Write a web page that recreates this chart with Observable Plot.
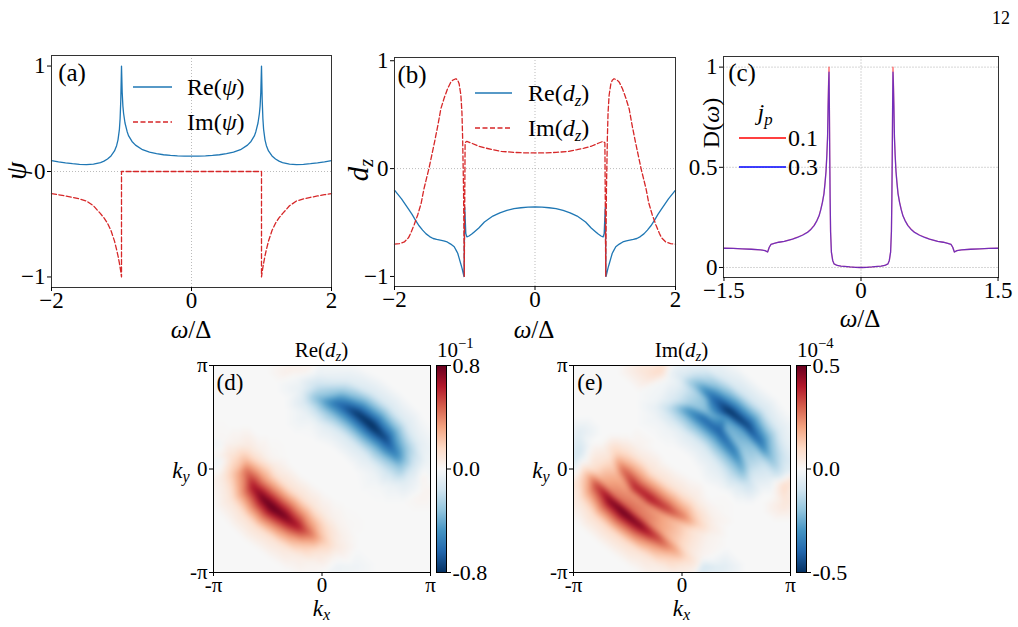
<!DOCTYPE html>
<html><head><meta charset="utf-8">
<script src="https://cdn.jsdelivr.net/npm/d3@7"></script>
<script src="https://cdn.jsdelivr.net/npm/@observablehq/plot@0.6"></script>
<style>
html,body{margin:0;padding:0;background:#fff;}
#fig{position:relative;width:1018px;height:627px;overflow:hidden;font-family:"Liberation Serif","DejaVu Serif",serif;color:#000;}
#fig svg{position:absolute;left:0;top:0;}
.t{position:absolute;white-space:nowrap;line-height:1;}
.t sub{font-size:70%;vertical-align:-0.28em;line-height:0;}
.t sup{font-size:70%;vertical-align:0.6em;line-height:0;}
</style></head><body><div id="fig"></div>
<script>
// ---------------- Panel (a): psi ----------------
const wReA = [-2.0,-1.9,-1.8,-1.7,-1.6,-1.5,-1.4,-1.3,-1.25,-1.2,-1.15,-1.1,-1.07,-1.05,-1.03,-1.02,-1.01,-1.0,-0.99,-0.98,-0.97,-0.95,-0.92,-0.9,-0.85,-0.8,-0.7,-0.6,-0.5,-0.4,-0.3,-0.2,-0.1,0,
  0.1,0.2,0.3,0.4,0.5,0.6,0.7,0.8,0.85,0.9,0.92,0.95,0.97,0.98,0.99,1.0,1.01,1.02,1.03,1.05,1.07,1.1,1.15,1.2,1.25,1.3,1.4,1.5,1.6,1.7,1.8,1.9,2.0];
const reA = [0.104,0.092,0.082,0.074,0.068,0.066,0.070,0.085,0.098,0.118,0.148,0.195,0.245,0.30,0.40,0.50,0.68,1.0,0.75,0.62,0.55,0.46,0.38,0.34,0.285,0.25,0.207,0.184,0.169,0.159,0.152,0.148,0.146,0.145,
  0.146,0.148,0.152,0.159,0.169,0.184,0.207,0.25,0.285,0.34,0.38,0.46,0.55,0.62,0.75,1.0,0.68,0.50,0.40,0.30,0.245,0.195,0.148,0.118,0.098,0.085,0.070,0.066,0.068,0.074,0.082,0.092,0.104];
const wImA = [-2.0,-1.9,-1.8,-1.7,-1.6,-1.5,-1.4,-1.3,-1.25,-1.2,-1.15,-1.1,-1.07,-1.05,-1.03,-1.02,-1.01,-1.0,-1.0,
  1.0,1.0,1.01,1.02,1.03,1.05,1.07,1.1,1.15,1.2,1.25,1.3,1.4,1.5,1.6,1.7,1.8,1.9,2.0];
const imA = [-0.21,-0.22,-0.232,-0.245,-0.26,-0.28,-0.325,-0.40,-0.44,-0.49,-0.56,-0.66,-0.74,-0.80,-0.87,-0.91,-0.95,-1.0,0,
  0,-1.0,-0.95,-0.91,-0.87,-0.80,-0.74,-0.66,-0.56,-0.49,-0.44,-0.40,-0.325,-0.28,-0.26,-0.245,-0.232,-0.22,-0.21];

// ---------------- Panel (b): d_z ----------------
const wReB = [-2.0,-1.9,-1.8,-1.75,-1.7,-1.65,-1.6,-1.55,-1.5,-1.45,-1.4,-1.35,-1.3,-1.25,-1.2,-1.15,-1.12,-1.1,-1.08,-1.06,-1.04,-1.02,-1.01,-1.0,-0.985,-0.97,-0.94,-0.9,-0.865,-0.8,-0.72,-0.6,-0.5,-0.4,-0.3,-0.2,-0.1,0,
  0.1,0.2,0.3,0.4,0.5,0.6,0.72,0.8,0.865,0.9,0.94,0.97,0.985,1.0,1.01,1.02,1.04,1.06,1.08,1.1,1.12,1.15,1.2,1.25,1.3,1.35,1.4,1.45,1.5,1.55,1.6,1.65,1.7,1.75,1.8,1.9,2.0];
const reB = [-0.2,-0.28,-0.375,-0.425,-0.48,-0.53,-0.57,-0.605,-0.63,-0.648,-0.657,-0.663,-0.67,-0.68,-0.70,-0.725,-0.76,-0.785,-0.83,-0.875,-0.92,-0.975,-1.0,-0.36,-0.6,-0.633,-0.625,-0.607,-0.587,-0.55,-0.495,-0.44,-0.41,-0.388,-0.372,-0.363,-0.357,-0.355,
  -0.357,-0.363,-0.372,-0.388,-0.41,-0.44,-0.495,-0.55,-0.587,-0.607,-0.625,-0.633,-0.6,-0.36,-1.0,-0.975,-0.92,-0.875,-0.83,-0.785,-0.76,-0.725,-0.70,-0.68,-0.67,-0.663,-0.657,-0.648,-0.63,-0.605,-0.57,-0.53,-0.48,-0.425,-0.375,-0.28,-0.2];
const wImB = [-2.0,-1.93,-1.86,-1.8,-1.77,-1.72,-1.67,-1.62,-1.58,-1.51,-1.43,-1.38,-1.34,-1.29,-1.245,-1.2,-1.17,-1.125,-1.1,-1.08,-1.055,-1.04,-1.03,-1.017,-1.007,-0.995,-0.97,-0.9,-0.8,-0.7,-0.6,-0.48,-0.3,-0.15,0,
  0.15,0.3,0.48,0.6,0.7,0.8,0.9,0.97,0.995,1.007,1.017,1.03,1.04,1.055,1.08,1.1,1.125,1.17,1.2,1.245,1.29,1.34,1.38,1.43,1.51,1.58,1.62,1.67,1.72,1.77,1.8,1.86,1.93,2.0];
const imB = [-0.70,-0.695,-0.68,-0.64,-0.60,-0.52,-0.43,-0.32,-0.185,0.0,0.246,0.41,0.555,0.66,0.74,0.80,0.82,0.833,0.82,0.787,0.68,0.52,0.28,-0.2,-1.0,0.24,0.253,0.235,0.207,0.19,0.175,0.16,0.15,0.146,0.145,
  0.146,0.15,0.16,0.175,0.19,0.207,0.235,0.253,0.24,-1.0,-0.2,0.28,0.52,0.68,0.787,0.82,0.833,0.82,0.80,0.74,0.66,0.555,0.41,0.246,0.0,-0.185,-0.32,-0.43,-0.52,-0.60,-0.64,-0.68,-0.695,-0.70];

// ---------------- Panel (c): D(omega) for two j_p ----------------
const wC = [-1.5,-1.4,-1.3,-1.2,-1.1,-1.05,-1.022,-1.004,-0.985,-0.95,-0.9,-0.84,-0.75,-0.695,-0.64,-0.586,-0.55,-0.513,-0.485,-0.458,-0.44,-0.422,-0.405,-0.393,-0.383,-0.374,-0.366,-0.36,-0.355,-0.35,-0.346,-0.342,-0.338,-0.333,-0.324,-0.31,-0.295,-0.26,-0.22,-0.185,-0.12,-0.06,0,
  0.06,0.12,0.185,0.22,0.26,0.295,0.31,0.324,0.333,0.338,0.342,0.346,0.35,0.355,0.36,0.366,0.374,0.383,0.393,0.405,0.422,0.44,0.458,0.485,0.513,0.55,0.586,0.64,0.695,0.75,0.84,0.9,0.95,0.985,1.004,1.022,1.05,1.1,1.2,1.3,1.4,1.5];
const dJp01 = [0.096,0.095,0.093,0.091,0.088,0.084,0.077,0.101,0.115,0.12,0.126,0.13,0.142,0.151,0.162,0.176,0.19,0.21,0.232,0.26,0.29,0.326,0.37,0.426,0.48,0.56,0.65,0.81,0.92,1.0,0.8,0.56,0.35,0.18,0.077,0.035,0.018,0.01,0.007,0.006,0.003,0.001,0,
  0.001,0.003,0.006,0.007,0.01,0.018,0.035,0.077,0.18,0.35,0.56,0.8,1.0,0.92,0.81,0.65,0.56,0.48,0.426,0.37,0.326,0.29,0.26,0.232,0.21,0.19,0.176,0.162,0.151,0.142,0.13,0.126,0.12,0.115,0.101,0.077,0.084,0.088,0.091,0.093,0.095,0.096];
const dJp03 = [0.096,0.095,0.093,0.091,0.088,0.084,0.077,0.101,0.115,0.12,0.126,0.13,0.141,0.150,0.161,0.175,0.189,0.209,0.231,0.259,0.289,0.325,0.369,0.425,0.479,0.558,0.648,0.80,0.90,0.975,0.79,0.55,0.345,0.178,0.077,0.035,0.018,0.01,0.007,0.006,0.003,0.001,0,
  0.001,0.003,0.006,0.007,0.01,0.018,0.035,0.077,0.178,0.345,0.55,0.79,0.975,0.90,0.80,0.648,0.558,0.479,0.425,0.369,0.325,0.289,0.259,0.231,0.209,0.189,0.175,0.161,0.150,0.141,0.13,0.126,0.12,0.115,0.101,0.077,0.084,0.088,0.091,0.093,0.095,0.096];
const jpLabels = ["0.1","0.3"];

// ---------------- Panel (d): Re(d_z) in k-space (ridges) ----------------
const dRedKx = [-2.12,-2.22,-2.18,-1.98,-1.69,-1.45,-1.11,-0.73,-0.34,0.04,0.42];
const dRedKy = [0.66,0.30,-0.05,-0.55,-0.91,-1.16,-1.41,-1.71,-1.97,-2.17,-2.37];
const dRedV  = [0.08,0.24,0.45,0.68,0.8,0.85,0.8,0.68,0.45,0.22,0.08];
const dBlueKx = [-0.53,-0.14,0.44,1.02,1.45,1.84,2.13,2.27,2.37];
const dBlueKy = [2.03,2.13,1.98,1.68,1.32,0.92,0.46,0.01,-0.40];
const dBlueV  = [-0.12,-0.35,-0.62,-0.8,-0.85,-0.75,-0.55,-0.3,-0.1];
const dProfileOff = [-1.3,-0.75,-0.38,0,0.38,0.75,1.3];
const dProfileFac = [0,0.15,0.52,1,0.52,0.15,0];
const dFaintKx = [-0.95,-0.45,2.95,2.95,0.45,0.95,-2.95,-2.95];
const dFaintKy = [3.0,3.0,-0.3,-0.8,-3.0,-3.0,0.3,0.8];
const dFaintV  = [0.05,0.04,0.04,0.03,-0.05,-0.04,-0.04,-0.03];

// ---------------- Panel (e): Im(d_z) in k-space ----------------
const eRedOutKx = [-2.76,-2.47,-2.08,-1.69,-1.21,-0.73,-0.25,0.14,0.5];
const eRedOutKy = [-0.15,-0.50,-0.96,-1.31,-1.71,-2.07,-2.42,-2.68,-2.85];
const eRedOutV  = [0.15,0.35,0.48,0.52,0.48,0.36,0.22,0.1,0.03];
const eRedInKx = [-1.89,-1.69,-1.36,-0.92,-0.44,0.04,0.43,0.85];
const eRedInKy = [0.46,-0.05,-0.55,-0.91,-1.21,-1.46,-1.66,-1.82];
const eRedInV  = [0.12,0.3,0.4,0.42,0.36,0.26,0.13,0.04];
const eBlueOutKx = [-0.35,0.0,0.25,0.83,1.40,1.89,2.27,2.56,2.76];
const eBlueOutKy = [2.9,2.8,2.63,2.23,1.72,1.32,0.81,0.31,-0.20];
const eBlueOutV  = [-0.03,-0.08,-0.18,-0.38,-0.52,-0.48,-0.38,-0.22,-0.1];
const eBlueInKx = [-0.75,-0.33,0.15,0.63,1.11,1.50,1.74,1.89];
const eBlueInKy = [1.85,1.83,1.78,1.52,1.12,0.56,0.01,-0.40];
const eBlueInV  = [-0.04,-0.14,-0.3,-0.4,-0.42,-0.36,-0.25,-0.12];
const eOuterOff = [-1.2,-0.65,-0.28,0,0.22];
const eOuterFac = [0,0.18,0.6,1,0.55];
const eInnerOff = [-0.22,0,0.28,0.65,1.2];
const eInnerFac = [0.55,1,0.6,0.18,0];
const eFaintKx = [-1.2,-0.6,3.0,3.0,0.6,1.2,-3.0,-3.0];
const eFaintKy = [3.0,3.0,-0.5,-1.1,-3.0,-3.0,0.5,1.1];
const eFaintV  = [0.06,0.1,0.1,0.06,-0.1,-0.06,-0.1,-0.06];

const dTicks = [-0.8,0,0.8];
const eTicks = [-0.5,0,0.5];

// ---------------- helpers ----------------
const W = 1018, H = 627, PI = Math.PI;
const FONT = '"Liberation Serif","DejaVu Serif",serif';
const BLUE = "#1f77b4", RED = "#d62728";
const RDBU = d3.schemeRdBu[11].slice().reverse();
const fig = document.getElementById("fig");
const rows = (xs, ys) => xs.map((w, i) => ({w, v: ys[i]}));
const fmtM = d => (d < 0 ? "\u2212" + Math.abs(d) : String(d));
const piFmt = d => (d < -1 ? "-\u03C0" : d > 1 ? "\u03C0" : "0");
function colorScale(lim) {
  return {type: "linear", domain: RDBU.map((_, i) => -lim + i * lim / 5), range: RDBU, interpolate: "rgb", clamp: true};
}
function base(ml, mr, mt, mb, fs) {
  return {width: W, height: H, marginLeft: ml, marginRight: mr, marginTop: mt, marginBottom: mb,
    style: {background: "transparent", fontFamily: FONT, fontSize: (fs || 23) + "px", color: "#000"}};
}
function band(kx, ky, val, offs, facs) {
  const pts = [], n = kx.length;
  for (let i = 0; i < n; i++) {
    const a = Math.max(0, i - 1), b = Math.min(n - 1, i + 1);
    let tx = kx[b] - kx[a], ty = ky[b] - ky[a];
    const L = Math.hypot(tx, ty); tx /= L; ty /= L;
    let nx = -ty, ny = tx;
    if (nx * (-kx[i]) + ny * (-ky[i]) < 0) { nx = -nx; ny = -ny; }
    offs.forEach((o, j) => pts.push({x: kx[i] + o * nx, y: ky[i] + o * ny, v: val[i] * facs[j]}));
  }
  return pts;
}
function faint(kx, ky, v) { return kx.map((x, i) => ({x, y: ky[i], v: v[i]})); }
function withBackground(pts) {
  const out = pts.slice(), n = 25;
  for (let i = 0; i < n; i++) for (let j = 0; j < n; j++) {
    const x = -PI + 2 * PI * i / (n - 1), y = -PI + 2 * PI * j / (n - 1);
    if (pts.every(p => Math.hypot(p.x - x, p.y - y) > 0.45)) out.push({x, y, v: 0});
  }
  return out;
}
function add(svg) { fig.appendChild(svg); }
function txt(html, x, y, o = {}) {
  const d = document.createElement("div");
  d.className = "t"; d.innerHTML = html;
  d.style.left = x + "px"; d.style.top = y + "px";
  d.style.fontSize = (o.size || 22) + "px";
  const ax = o.anchor === "start" ? "0" : o.anchor === "end" ? "-100%" : "-50%";
  d.style.transform = `translate(${ax},-50%)` + (o.rotate ? ` rotate(${o.rotate}deg)` : "");
  fig.appendChild(d);
}

// ---------------- (a) ----------------
add(Plot.plot({
  ...base(51, 687, 55, 340),
  x: {domain: [-2, 2]}, y: {domain: [-1.1, 1.1]},
  marks: [
    Plot.gridX({ticks: [0], stroke: "#aaa", strokeOpacity: 1, strokeDasharray: "1,2", strokeWidth: 0.8}),
    Plot.gridY({ticks: [0], stroke: "#aaa", strokeOpacity: 1, strokeDasharray: "1,2", strokeWidth: 0.8}),
    Plot.line(rows(wReA, reA), {x: "w", y: "v", stroke: BLUE, strokeWidth: 1.3}),
    Plot.line(rows(wImA, imA), {x: "w", y: "v", stroke: RED, strokeWidth: 1.3, strokeDasharray: "5,2.5"}),
    Plot.frame({stroke: "#333"}),
    Plot.axisX({ticks: [-2, 0, 2], tickFormat: fmtM, tickSize: 4, tickPadding: 0, label: null}),
    Plot.axisY({ticks: [-1, 0, 1], tickFormat: fmtM, tickSize: 4, tickPadding: 2, label: null})
  ]
}));
// ---------------- (b) ----------------
add(Plot.plot({
  ...base(394, 343, 57, 341),
  x: {domain: [-2, 2]}, y: {domain: [-1.093, 1.03]},
  marks: [
    Plot.gridX({ticks: [0], stroke: "#aaa", strokeOpacity: 1, strokeDasharray: "1,2", strokeWidth: 0.8}),
    Plot.gridY({ticks: [0], stroke: "#aaa", strokeOpacity: 1, strokeDasharray: "1,2", strokeWidth: 0.8}),
    Plot.line(rows(wReB, reB), {x: "w", y: "v", stroke: BLUE, strokeWidth: 1.3}),
    Plot.line(rows(wImB, imB), {x: "w", y: "v", stroke: RED, strokeWidth: 1.3, strokeDasharray: "5,2.5"}),
    Plot.frame({stroke: "#333"}),
    Plot.axisX({ticks: [-2, 0, 2], tickFormat: fmtM, tickSize: 4, tickPadding: 0, label: null}),
    Plot.axisY({ticks: [-1, 0, 1], tickFormat: fmtM, tickSize: 4, tickPadding: 2, label: null})
  ]
}));
// ---------------- (c) ----------------
add(Plot.plot({
  ...base(723, 20, 56, 350),
  x: {domain: [-1.505, 1.505]}, y: {domain: [-0.05, 1.053]},
  marks: [
    Plot.gridX({ticks: [0], stroke: "#ccc", strokeOpacity: 1, strokeDasharray: "2,1", strokeWidth: 0.8}),
    Plot.gridY({ticks: [0, 0.5, 1], stroke: "#ccc", strokeOpacity: 1, strokeDasharray: "2,1", strokeWidth: 0.8}),
    Plot.line(rows(wC, dJp01), {x: "w", y: "v", stroke: "#ff0000", strokeOpacity: 0.6, strokeWidth: 1.3}),
    Plot.line(rows(wC, dJp03), {x: "w", y: "v", stroke: "#0000ff", strokeOpacity: 0.55, strokeWidth: 1.3}),
    Plot.frame({stroke: "#333"}),
    Plot.axisX({ticks: [-1.5, 0, 1.5], tickFormat: fmtM, tickSize: 4, tickPadding: 0, label: null}),
    Plot.axisY({ticks: [0, 0.5, 1], tickFormat: fmtM, tickSize: 4, tickPadding: 2, label: null})
  ]
}));

// ---------------- heatmaps ----------------
const samplesD = withBackground([
  ...band(dRedKx, dRedKy, dRedV, dProfileOff, dProfileFac),
  ...band(dBlueKx, dBlueKy, dBlueV, dProfileOff, dProfileFac),
  ...faint(dFaintKx, dFaintKy, dFaintV)]);
const samplesE = withBackground([
  ...band(eRedOutKx, eRedOutKy, eRedOutV, eOuterOff, eOuterFac),
  ...band(eRedInKx, eRedInKy, eRedInV, eInnerOff, eInnerFac),
  ...band(eBlueOutKx, eBlueOutKy, eBlueOutV, eOuterOff, eOuterFac),
  ...band(eBlueInKx, eBlueInKy, eBlueInV, eInnerOff, eInnerFac),
  ...faint(eFaintKx, eFaintKy, eFaintV)]);

function heat(samples, lim, ml, mr) {
  return Plot.plot({
    ...base(ml, mr, 365, 55, 21),
    x: {domain: [-PI, PI]}, y: {domain: [-PI, PI]},
    color: colorScale(lim),
    marks: [
      Plot.raster(samples, {x: "x", y: "y", fill: "v", x1: -PI, x2: PI, y1: -PI, y2: PI, interpolate: "barycentric", blur: 2}),
      Plot.frame({stroke: "#000"}),
      Plot.axisX({ticks: [-PI, 0, PI], tickFormat: piFmt, tickSize: 4, tickPadding: 1, label: null}),
      Plot.axisY({ticks: [-PI, 0, PI], tickFormat: piFmt, tickSize: 4, tickPadding: 2, label: null})
    ]
  });
}
function cbar(lim, ticks, ml, mr) {
  return Plot.plot({
    ...base(ml, mr, 365, 55, 22),
    x: {domain: [0, 1], axis: null}, y: {domain: [-lim, lim]},
    color: colorScale(lim),
    marks: [
      Plot.raster({fill: (x, y) => y, x1: 0, x2: 1, y1: -lim, y2: lim}),
      Plot.frame({stroke: "#000"}),
      Plot.axisY({anchor: "right", ticks, tickFormat: d => d.toFixed(1), tickSize: 4, tickPadding: 2, label: null})
    ]
  });
}
add(heat(samplesD, 0.8, 213, 588));
add(cbar(0.8, dTicks, 436, 572));
add(heat(samplesE, 0.5, 573, 228));
add(cbar(0.5, eTicks, 796, 212));

// ---------------- texts ----------------
txt("12", 1001, 18, {size: 18});
txt("(a)", 72, 72, {size: 25});
txt("(b)", 412, 74, {size: 25});
txt("(c)", 742, 72, {size: 25});
txt("(d)", 230, 382, {size: 23});
txt("(e)", 590, 382, {size: 23});
txt("<i>\u03C8</i>", 16, 171, {size: 29, rotate: -90});
txt("<i>d<sub>z</sub></i>", 358, 170, {size: 29, rotate: -90});
txt("D(<i>\u03C9</i>)", 711, 123, {size: 24, rotate: -90});
txt("<i>\u03C9</i>/\u0394", 191, 329, {size: 25});
txt("<i>\u03C9</i>/\u0394", 534, 329, {size: 25});
txt("<i>\u03C9</i>/\u0394", 860, 318, {size: 25});
txt("Re(<i>\u03C8</i>)", 187, 87, {anchor: "start", size: 24});
txt("Im(<i>\u03C8</i>)", 187, 122, {anchor: "start", size: 24});
txt("Re(<i>d<sub>z</sub></i>)", 528, 93, {anchor: "start", size: 24});
txt("Im(<i>d<sub>z</sub></i>)", 528, 128, {anchor: "start", size: 24});
txt("<i>j<sub>p</sub></i>", 765, 112, {size: 24});
txt(jpLabels[0], 788, 138, {anchor: "start", size: 24});
txt(jpLabels[1], 788, 167, {anchor: "start", size: 24});
txt("Re(<i>d<sub>z</sub></i>)", 321.5, 350, {size: 21});
txt("Im(<i>d<sub>z</sub></i>)", 681.5, 350, {size: 21});
txt("10<sup>\u22121</sup>", 437, 350, {anchor: "start", size: 21});
txt("10<sup>\u22124</sup>", 797, 350, {anchor: "start", size: 21});
txt("<i>k<sub>y</sub></i>", 181, 470, {size: 23});
txt("<i>k<sub>y</sub></i>", 541, 470, {size: 23});
txt("<i>k<sub>x</sub></i>", 321.5, 608, {size: 23});
txt("<i>k<sub>x</sub></i>", 681.5, 608, {size: 23});

// legend sample lines
const ov = d3.select(fig).append("svg").attr("width", W).attr("height", H);
function legLine(x1, x2, y, color, dash) {
  const l = ov.append("line").attr("x1", x1).attr("x2", x2).attr("y1", y).attr("y2", y)
    .attr("stroke", color).attr("stroke-width", 1.3);
  if (dash) l.attr("stroke-dasharray", dash);
}
legLine(133, 172, 87, BLUE);
legLine(133, 172, 122, RED, "5,2.5");
legLine(475, 512, 93, BLUE);
legLine(475, 512, 128, RED, "5,2.5");
legLine(739, 786, 138, "#ff0000");
legLine(739, 786, 167, "#0000ff");
</script></body></html>
